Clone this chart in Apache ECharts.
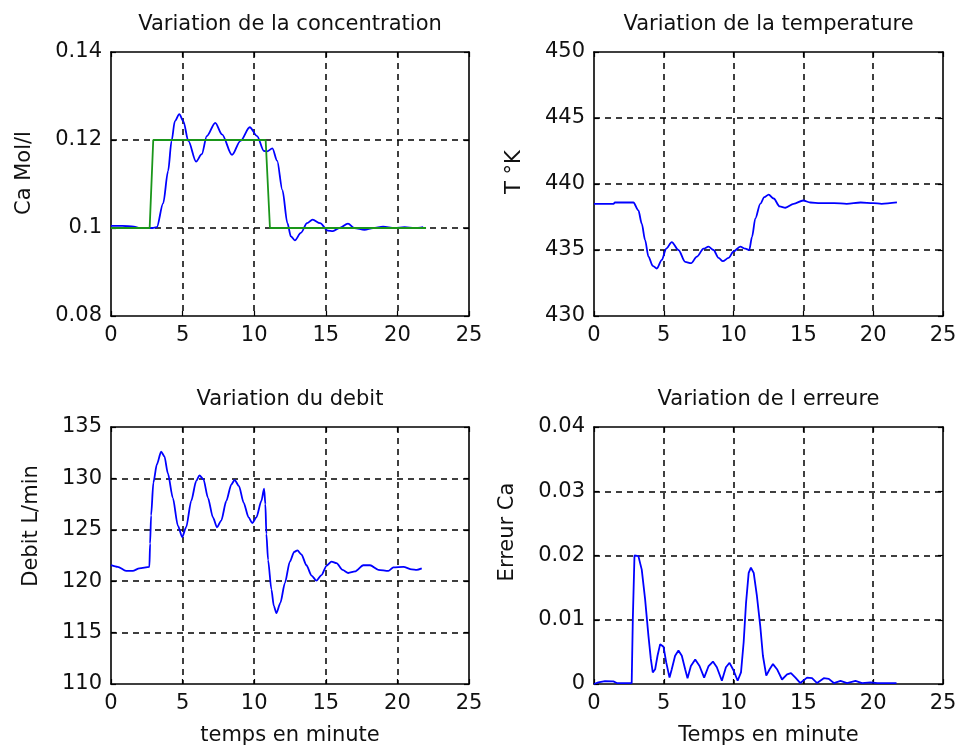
<!DOCTYPE html>
<html>
<head>
<meta charset="utf-8">
<script src="https://cdn.jsdelivr.net/npm/echarts@6/dist/echarts.min.js"></script>
<style>
  html, body { margin: 0; padding: 0; background: #fff; }
  #chart { width: 960px; height: 751px; }
</style>
</head>
<body>
<div id="chart"></div>
<script>
// Reactor simulation: concentration, temperature, flow and error versus time (min)

// Concentration Ca (mol/l) and its set point
const concPts = [
  [0, 0.1005], [0.8, 0.1005], [1.6, 0.1003], [2.0, 0.1], [2.9, 0.1], [3.2, 0.1002],
  [3.64, 0.1056], [3.99, 0.113], [4.23, 0.1198], [4.46, 0.1243], [4.77, 0.1259],
  [5.05, 0.1243], [5.4, 0.1198], [5.94, 0.1151], [6.34, 0.1168], [6.69, 0.1209],
  [7.28, 0.1239], [7.75, 0.1213], [8.45, 0.1166], [9.04, 0.1198], [9.69, 0.1229],
  [10.2, 0.1209], [10.68, 0.1175], [10.9, 0.1174], [11.27, 0.1181], [11.6, 0.1153],
  [11.97, 0.1086], [12.32, 0.1011], [12.56, 0.0981], [12.84, 0.0972], [13.26, 0.0989],
  [13.69, 0.1011], [14.08, 0.1019], [14.6, 0.1011], [15.14, 0.0994], [15.5, 0.0993],
  [15.96, 0.1], [16.55, 0.101], [17.0, 0.1], [17.7, 0.0996], [18.3, 0.1],
  [19.0, 0.1003], [19.8, 0.1], [20.5, 0.1002], [21.2, 0.1], [21.8, 0.1002]
];
const setpointPts = [
  [0, 0.1], [2.7, 0.1], [2.95, 0.12], [10.8, 0.12], [11.1, 0.1], [22.0, 0.1]
];

// Reactor temperature (K)
const tempPts = [
  [0, 438.5], [1.4, 438.5], [1.5, 438.6], [2.82, 438.6], [3.18, 438.0], [3.42, 437.0],
  [3.66, 435.75], [3.9, 434.5], [4.21, 433.8], [4.5, 433.6], [4.86, 434.25],
  [5.17, 435.1], [5.57, 435.6], [6.05, 435.0], [6.53, 434.1], [6.96, 434.0],
  [7.37, 434.5], [7.85, 435.1], [8.2, 435.25], [8.56, 435.0], [8.92, 434.4],
  [9.23, 434.15], [9.64, 434.4], [10.0, 434.9], [10.48, 435.25], [10.84, 435.1],
  [11.12, 435.0], [11.32, 436.0], [11.56, 437.4], [11.91, 438.5], [12.2, 439.0],
  [12.51, 439.2], [12.87, 438.9], [13.3, 438.3], [13.71, 438.2], [14.3, 438.5],
  [14.98, 438.75], [15.5, 438.6], [16.2, 438.55], [17.2, 438.55], [18.1, 438.5],
  [19.1, 438.6], [20.0, 438.55], [20.6, 438.5], [21.7, 438.6]
];

// Coolant flow (L/min)
const debitPts = [
  [0, 121.57], [0.47, 121.4], [1.05, 121.0], [1.52, 121.0], [1.98, 121.25],
  [2.68, 121.4], [2.73, 123.65], [2.8, 126.4], [2.96, 129.6], [3.2, 131.35],
  [3.5, 132.6], [3.73, 132.15], [3.97, 130.5], [4.32, 128.1], [4.67, 125.4],
  [4.97, 124.3], [5.25, 125.25], [5.6, 127.8], [5.95, 129.75], [6.18, 130.3],
  [6.46, 129.9], [6.77, 128.1], [7.12, 126.2], [7.4, 125.25], [7.7, 125.9],
  [8.05, 127.8], [8.4, 129.4], [8.63, 129.85], [8.94, 129.25], [9.26, 127.65],
  [9.61, 126.2], [9.87, 125.65], [10.15, 126.2], [10.5, 127.8], [10.69, 129.0],
  [10.78, 127.5], [10.85, 124.6], [10.97, 122.05], [11.2, 119.2], [11.37, 117.6],
  [11.55, 116.9], [11.83, 117.9], [12.14, 119.8], [12.49, 121.9], [12.79, 122.85],
  [13.02, 123.0], [13.3, 122.6], [13.65, 121.55], [14.0, 120.55], [14.35, 120.05],
  [14.7, 120.6], [15.05, 121.5], [15.4, 121.9], [15.75, 121.75], [16.17, 121.1],
  [16.57, 120.8], [17.04, 120.95], [17.62, 121.55], [18.09, 121.55], [18.67, 121.1],
  [19.37, 121.0], [19.72, 121.35], [20.42, 121.4], [21.0, 121.15], [21.35, 121.1],
  [21.7, 121.25]
];

// Absolute error on Ca
const errPts = [
  [0, 0], [0.31, 0.00026], [0.79, 0.00046], [1.39, 0.0004], [1.63, 0.00015],
  [2.7, 0.00015], [2.78, 0.01], [2.9, 0.02], [3.18, 0.0199], [3.42, 0.0178],
  [3.66, 0.0132], [3.9, 0.0075], [4.07, 0.0039], [4.21, 0.0018], [4.38, 0.0023],
  [4.55, 0.0044], [4.74, 0.0062], [4.98, 0.0058], [5.17, 0.0034], [5.41, 0.001],
  [5.57, 0.0023], [5.81, 0.0044], [6.05, 0.0052], [6.29, 0.0044], [6.53, 0.0023],
  [6.7, 0.0009], [6.94, 0.0028], [7.25, 0.0038], [7.56, 0.0028], [7.89, 0.001],
  [8.21, 0.0028], [8.52, 0.0035], [8.8, 0.0026], [9.16, 0.0005], [9.45, 0.0026],
  [9.71, 0.0033], [10.0, 0.0021], [10.29, 0.0005], [10.53, 0.0018], [10.72, 0.0065],
  [10.89, 0.0126], [11.08, 0.0173], [11.24, 0.0181], [11.44, 0.0173], [11.67, 0.0137],
  [11.91, 0.009], [12.1, 0.0044], [12.34, 0.0013], [12.58, 0.0023], [12.82, 0.0031],
  [13.11, 0.0023], [13.47, 0.0007], [13.83, 0.0015], [14.11, 0.0017], [14.43, 0.001],
  [14.78, 0.00015], [15.26, 0.001], [15.62, 0.0009], [15.98, 0.00015], [16.46, 0.0009],
  [16.82, 0.0008], [17.18, 0.00015], [17.66, 0.0005], [18.13, 0.00015], [18.73, 0.0005],
  [19.2, 0.00015], [19.81, 0.00025], [20.3, 0.00015], [21.67, 0.00015]
];

// Axis ranges: [min, max, step]
const timeRange = [0, 25, 5];
const concRange = [0.08, 0.14, 0.02];
const tempRange = [430, 450, 5];
const debitRange = [110, 135, 5];
const errRange = [0, 0.04, 0.01];

const titles = [
  'Variation de la concentration', 'Variation de la temperature',
  'Variation du debit', 'Variation de l erreure'
];
const yNames = ['Ca Mol/l', 'T °K', 'Debit L/min', 'Erreur Ca'];
const xNames = ['temps en minute', 'Temps en minute'];

const FONT = 'DejaVu Sans';
const INK = '#111';

const grids = [
  { left: 111, top: 52, width: 358, height: 264 },
  { left: 594, top: 52, width: 349, height: 264 },
  { left: 111, top: 427, width: 358, height: 257 },
  { left: 594, top: 427, width: 349, height: 257 }
];

const gridLine = { show: true, showMinLine: false, showMaxLine: false,
  lineStyle: { color: '#000', type: [6, 5], width: 1.5 } };
const frame = { show: true, onZero: false, lineStyle: { color: '#000', width: 1.6 } };
const ticks = { show: true, inside: true, length: 5, lineStyle: { color: '#000', width: 1.2 } };

function mainX(i) {
  return {
    type: 'value', gridIndex: i, position: 'bottom',
    min: timeRange[0], max: timeRange[1], interval: timeRange[2],
    axisLine: frame, axisTick: ticks,
    axisLabel: { show: true, margin: 9, fontSize: 21, fontFamily: FONT, color: INK },
    splitLine: gridLine
  };
}
function mirrorX(i) {
  return {
    type: 'value', gridIndex: i, position: 'top',
    min: timeRange[0], max: timeRange[1], interval: timeRange[2],
    axisLine: frame, axisTick: ticks,
    axisLabel: { show: false }, splitLine: { show: false }
  };
}
function mainY(i, r) {
  return {
    type: 'value', gridIndex: i, position: 'left',
    min: r[0], max: r[1], interval: r[2],
    axisLine: frame, axisTick: ticks,
    axisLabel: { show: true, margin: 9, fontSize: 21, fontFamily: FONT, color: INK },
    splitLine: gridLine
  };
}
function mirrorY(i, r) {
  return {
    type: 'value', gridIndex: i, position: 'right',
    min: r[0], max: r[1], interval: r[2],
    axisLine: frame, axisTick: ticks,
    axisLabel: { show: false }, splitLine: { show: false }
  };
}

const ranges = [concRange, tempRange, debitRange, errRange];

const xAxes = [0, 1, 2, 3].map(mainX).concat([0, 1, 2, 3].map(mirrorX));
const yAxes = [0, 1, 2, 3].map(i => mainY(i, ranges[i]))
  .concat([0, 1, 2, 3].map(i => mirrorY(i, ranges[i])));

function lineSeries(idx, pts, color, smooth) {
  return {
    type: 'line', xAxisIndex: idx, yAxisIndex: idx, data: pts,
    showSymbol: false, smooth: smooth, smoothMonotone: 'x',
    lineStyle: { color: color, width: 1.8 }, animation: false, z: 3
  };
}

const BLUE = '#0000ff';
const GREEN = '#1a961a';

const series = [
  lineSeries(0, concPts, BLUE, 0.3),
  Object.assign(lineSeries(0, setpointPts, GREEN, false), { z: 4 }),
  lineSeries(1, tempPts, BLUE, 0.3),
  lineSeries(2, debitPts, BLUE, 0.25),
  lineSeries(3, errPts, BLUE, false)
];

// Titles, y labels and x labels placed around each panel
const centers = grids.map(g => g.left + g.width / 2);
const graphics = [];
const titleY = [25, 25, 400, 400];
titles.forEach((t, i) => graphics.push({
  type: 'text', x: centers[i], y: titleY[i], silent: true,
  style: { text: t, font: '21px "' + FONT + '"', fill: INK, align: 'center', verticalAlign: 'middle' }
}));
const yNamePos = [[25, 173], [515, 172], [32, 526], [508, 532]];
yNames.forEach((t, i) => graphics.push({
  type: 'text', x: yNamePos[i][0], y: yNamePos[i][1], rotation: Math.PI / 2, silent: true,
  style: { text: t, font: '21px "' + FONT + '"', fill: INK, align: 'center', verticalAlign: 'middle' }
}));
xNames.forEach((t, i) => graphics.push({
  type: 'text', x: centers[2 + i], y: 736, silent: true,
  style: { text: t, font: '21px "' + FONT + '"', fill: INK, align: 'center', verticalAlign: 'middle' }
}));

const chart = echarts.init(document.getElementById('chart'), null, { renderer: 'canvas' });
chart.setOption({
  backgroundColor: '#fff',
  animation: false,
  grid: grids.map(g => Object.assign({ show: false, containLabel: false }, g)),
  xAxis: xAxes,
  yAxis: yAxes,
  series: series,
  graphic: graphics
});
</script>
</body>
</html>
